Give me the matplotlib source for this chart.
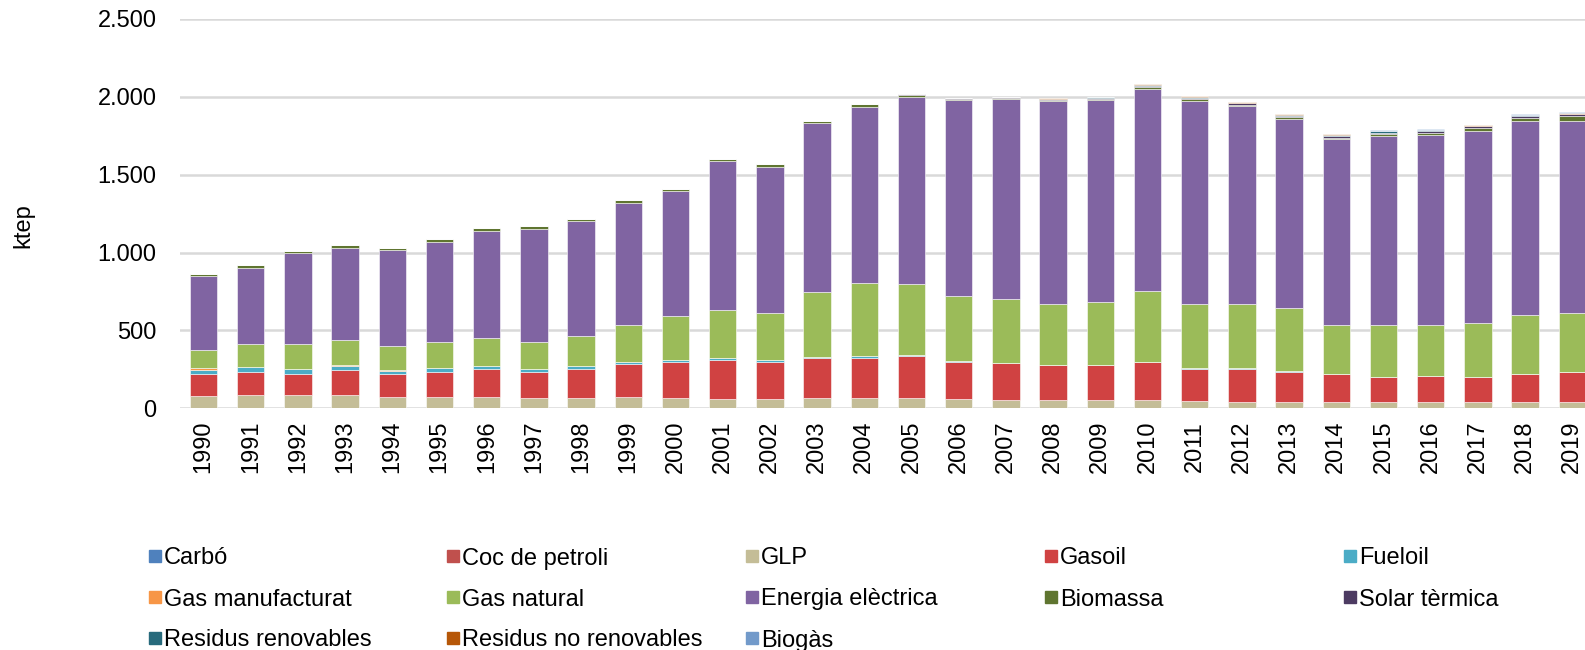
import numpy as np
import matplotlib
matplotlib.use("Agg")
import matplotlib.pyplot as plt
from matplotlib.patches import Rectangle
from matplotlib.ticker import FuncFormatter

plt.rcParams['font.family'] = ['Liberation Sans', 'DejaVu Sans']

# Consum d'energia final (ktep), 1990-2019
years = list(range(1990, 2020))

carbo = [0] * 30
coc_petroli = [0] * 30
glp = [79, 84, 84, 84, 73, 71, 73, 69, 67, 71, 64, 62, 62, 64, 69,
       69, 60, 56, 56, 54, 54, 47, 43, 43, 39, 39, 41, 41, 41, 39]
gasoil = [142, 148, 139, 165, 144, 161, 178, 165, 188, 212, 230, 251, 238, 256, 255,
          264, 236, 232, 219, 221, 240, 208, 212, 193, 182, 165, 169, 163, 182, 193]
fueloil = [28, 30, 28, 24, 23, 26, 19, 17, 18, 17, 15, 9, 11, 10, 11,
           10, 7, 2, 2, 2, 2, 1, 1, 1, 1, 0, 0, 0, 0, 0]
gas_manufacturat = [11, 6, 4, 8, 5, 2, 1, 1, 0, 0, 0, 0, 0, 0, 0,
                    0, 0, 0, 0, 0, 0, 0, 0, 0, 0, 0, 0, 0, 0, 0]
gas_natural = [116, 144, 159, 159, 156, 167, 182, 175, 191, 234, 285, 311, 303, 419, 468,
               457, 420, 410, 393, 408, 457, 416, 416, 409, 314, 328, 326, 341, 378, 380]
energia_electrica = [470, 487, 582, 588, 612, 643, 686, 727, 737, 786, 803, 952, 937, 1080, 1133,
                     1200, 1253, 1283, 1300, 1291, 1294, 1300, 1266, 1208, 1190, 1213, 1218, 1235, 1241, 1232]
biomassa = [16, 19, 15, 18, 15, 15, 16, 13, 15, 17, 11, 15, 16, 15, 17,
            14, 10, 11, 11, 12, 14, 12, 11, 14, 12, 14, 14, 18, 22, 30]
solar_termica = [1, 1, 0, 1, 0, 0, 1, 0, 0, 0, 0, 0, 1, 0, 0,
                 3, 3, 4, 5, 6, 7, 8, 9, 10, 10, 11, 11, 11, 12, 12]
residus_renovables = [0] * 15 + [2, 2, 0, 2, 4, 8, 9, 3, 6, 7, 8, 5, 4, 4, 6]
residus_no_renovables = [0] * 15 + [0, 0, 2, 3, 0, 7, 5, 3, 3, 4, 4, 4, 5, 5, 6]
biogas = [0] * 15 + [0, 0, 0, 0, 0, 0, 0, 2, 4, 3, 6, 2, 2, 2, 2]

series = [
    ('Carbó', carbo, '#4f81bd'),
    ('Coc de petroli', coc_petroli, '#c0504d'),
    ('GLP', glp, '#c4bd97'),
    ('Gasoil', gasoil, '#d04242'),
    ('Fueloil', fueloil, '#4bacc6'),
    ('Gas manufacturat', gas_manufacturat, '#f79646'),
    ('Gas natural', gas_natural, '#9bbb59'),
    ('Energia elèctrica', energia_electrica, '#8064a2'),
    ('Biomassa', biomassa, '#5f7530'),
    ('Solar tèrmica', solar_termica, '#4d3b62'),
    ('Residus renovables', residus_renovables, '#276a7c'),
    ('Residus no renovables', residus_no_renovables, '#b65708'),
    ('Biogàs', biogas, '#729aca'),
]

W, H = 1585, 650
FS = 17
fig = plt.figure(figsize=(W / 100, H / 100), dpi=100)
ax = fig.add_axes([180 / W, 1 - 408.3 / H, 1 - 180 / W, (408.3 - 18.8) / H])

x = np.arange(len(years))
bottom = np.zeros(len(years))
for name, vals, color in series:
    vals = np.array(vals, dtype=float)
    ax.bar(x, vals, 0.58, bottom=bottom, color=color,
           edgecolor=(1, 1, 1, 0.55), linewidth=0.7, zorder=3)
    bottom += vals

ax.set_ylim(0, 2500)
ax.set_xlim(-0.5, 29.27)
ax.set_yticks(range(0, 2501, 500))
ax.yaxis.set_major_formatter(FuncFormatter(lambda v, p: f'{int(v):,}'.replace(',', '.')))
ax.set_xticks(x)
ax.set_xticklabels([str(y) for y in years], rotation=90)
ax.grid(axis='y', color='#d9d9d9', linewidth=1.8, zorder=0)
ax.set_axisbelow(True)
for s in ax.spines.values():
    s.set_visible(False)
ax.tick_params(axis='both', length=0, labelsize=FS, colors='#000000')
ax.tick_params(axis='y', pad=17)
ax.tick_params(axis='x', pad=9)

fig.text(23 / W, 1 - 226 / H, 'ktep', rotation=90, ha='center', va='center', fontsize=FS)

# legend laid out row by row like the original
col_x = [155, 453, 752, 1051, 1350]
row_y = [556, 597, 638]
for i, (name, vals, color) in enumerate(series):
    r, c = divmod(i, 5)
    cx, cy = col_x[c], row_y[r]
    fig.patches.append(Rectangle(((cx - 6) / W, 1 - (cy + 6) / H), 12 / W, 12 / H,
                                 transform=fig.transFigure, color=color, figure=fig))
    fig.text((cx + 9) / W, 1 - cy / H, name, ha='left', va='center_baseline', fontsize=FS)

fig.savefig('out.png', dpi=100)
